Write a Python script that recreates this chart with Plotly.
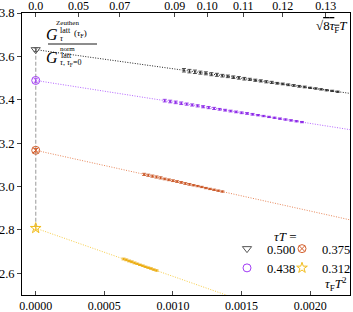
import plotly.graph_objects as go

# ---------------- data ----------------
tau_T_labels = ["0.500", "0.438", "0.375", "0.312"]

# extrapolated (tau_F -> 0) values at x = 0
extrap_y = [3.631, 3.489, 3.167, 2.808]
extrap_err = [0.008, 0.008, 0.008, 0.008]

# flow-time data  (x = tau_F T^2)
x_500 = [0.00108, 0.00112, 0.00116, 0.00120, 0.00124, 0.00128, 0.00132, 0.00136,
         0.00140, 0.00144, 0.00148, 0.00152, 0.00156, 0.00160, 0.00164, 0.00168,
         0.00172, 0.00176, 0.00180, 0.00184, 0.00188, 0.00192, 0.00196, 0.00200,
         0.00204, 0.00208, 0.00212, 0.00216, 0.00220]
y_500 = [3.536, 3.532, 3.529, 3.525, 3.522, 3.518, 3.515, 3.511, 3.508, 3.504,
         3.501, 3.497, 3.494, 3.490, 3.487, 3.483, 3.480, 3.476, 3.473, 3.469,
         3.466, 3.462, 3.459, 3.455, 3.452, 3.448, 3.444, 3.441, 3.437]
e_500 = [0.008, 0.008, 0.008, 0.007, 0.007, 0.007, 0.007, 0.006, 0.006, 0.006,
         0.006, 0.006, 0.005, 0.005, 0.005, 0.005, 0.005, 0.004, 0.004, 0.004,
         0.004, 0.004, 0.004, 0.003, 0.003, 0.003, 0.003, 0.003, 0.003]

x_438 = [0.00094, 0.00098, 0.00102, 0.00106, 0.00110, 0.00114, 0.00118, 0.00122,
         0.00126, 0.00130, 0.00134, 0.00138, 0.00142, 0.00146, 0.00150, 0.00154,
         0.00158, 0.00162, 0.00166, 0.00170, 0.00174, 0.00178, 0.00182, 0.00186,
         0.00190, 0.00194]
y_438 = [3.396, 3.392, 3.388, 3.384, 3.380, 3.376, 3.372, 3.368, 3.364, 3.360,
         3.356, 3.352, 3.348, 3.344, 3.340, 3.337, 3.333, 3.329, 3.325, 3.321,
         3.317, 3.313, 3.309, 3.305, 3.301, 3.297]
e_438 = [0.006, 0.006, 0.006, 0.006, 0.005, 0.005, 0.005, 0.005, 0.005, 0.005,
         0.004, 0.004, 0.004, 0.004, 0.004, 0.004, 0.004, 0.003, 0.003, 0.003,
         0.003, 0.003, 0.003, 0.003, 0.003, 0.003]

x_375 = [0.00079, 0.00082, 0.00085, 0.00088, 0.00091, 0.00094, 0.00097, 0.00100,
         0.00103, 0.00106, 0.00109, 0.00112, 0.00115, 0.00118, 0.00121, 0.00124,
         0.00127, 0.00130, 0.00133, 0.00136]
y_375 = [3.056, 3.052, 3.048, 3.044, 3.040, 3.035, 3.031, 3.027, 3.023, 3.019,
         3.014, 3.010, 3.006, 3.002, 2.998, 2.993, 2.989, 2.985, 2.981, 2.977]
e_375 = [0.005, 0.005, 0.005, 0.005, 0.005, 0.004, 0.004, 0.004, 0.004, 0.004,
         0.004, 0.004, 0.003, 0.003, 0.003, 0.003, 0.003, 0.003, 0.003, 0.003]

x_312 = [0.00064, 0.00066, 0.00068, 0.00070, 0.00072, 0.00074, 0.00076, 0.00078,
         0.00080, 0.00082, 0.00084, 0.00086, 0.00088]
y_312 = [2.666, 2.662, 2.657, 2.653, 2.648, 2.644, 2.639, 2.635, 2.630, 2.626,
         2.622, 2.617, 2.613]
e_312 = [0.004, 0.004, 0.004, 0.004, 0.004, 0.003, 0.003, 0.003, 0.003, 0.003,
         0.003, 0.003, 0.003]

# linear fits (end points)
fit_x = [0.0, 0.0023]
fit_500 = [3.631, 3.4286]
fit_438 = [3.489, 3.2613]
fit_375 = [3.167, 2.845]
fit_312 = [2.808, 2.2974]

# top axis tick labels: sqrt(8 tau_F) T
top_ticks = [0.0, 0.05, 0.07, 0.09, 0.10, 0.11, 0.12, 0.13]
top_labels = ["0.0", "0.05", "0.07", "0.09", "0.10", "0.11", "0.12", "0.13"]
bottom_ticks = [0.0, 0.0005, 0.0010, 0.0015, 0.0020]

# ---------------- style ----------------
W, H = 353, 312
ML, MR, MT, MB = 22, 3, 13, 17
PW, PH = W - ML - MR, H - MT - MB
FONT = "Liberation Serif"

data_x = [x_500, x_438, x_375, x_312]
data_y = [y_500, y_438, y_375, y_312]
data_e = [e_500, e_438, e_375, e_312]
fits = [fit_500, fit_438, fit_375, fit_312]

colors_pt = ["#555555", "#a23df5", "#d4612f", "#f2bd1d"]
colors_data = ["rgba(40,40,40,0.8)", "rgba(135,30,230,0.8)", "rgba(200,80,30,0.8)", "rgba(235,170,10,0.85)"]
colors_fit = ["#222222", "#b565ff", "#e8875a", "#f7cd45"]
symbols = ["triangle-down-open", "circle-open", "circle-x-open", "star-open"]
legends = ["legend", "legend", "legend2", "legend2"]

fig = go.Figure()

# vertical dashed guide at x=0
fig.add_trace(go.Scatter(
    x=[0.0, 0.0], y=[extrap_y[0], extrap_y[-1]], mode="lines",
    line=dict(color="#b0b0b0", width=1.3, dash="4px,2px"),
    showlegend=False, hoverinfo="skip"))

for i in range(4):
    fig.add_trace(go.Scatter(
        x=fit_x, y=fits[i], mode="lines",
        line=dict(color=colors_fit[i], width=1, dash="1px,1.5px"),
        showlegend=False, hoverinfo="skip"))
    fig.add_trace(go.Scatter(
        x=data_x[i], y=data_y[i], mode="markers",
        marker=dict(size=2, color=colors_data[i]),
        error_y=dict(type="data", array=data_e[i], color=colors_data[i], thickness=1, width=2),
        showlegend=False, hoverinfo="skip"))

for i in range(4):
    fig.add_trace(go.Scatter(
        x=[0.0], y=[extrap_y[i]], mode="markers", name=tau_T_labels[i],
        marker=dict(symbol=symbols[i], size=8, color=colors_pt[i], line=dict(width=1, color=colors_pt[i])),
        error_y=dict(type="data", array=[extrap_err[i]], color=colors_pt[i], thickness=1, width=2),
        legend=legends[i]))

fig.add_trace(go.Scatter(x=[0.0], y=[extrap_y[0]], xaxis="x2", mode="markers",
                         marker=dict(size=1, opacity=0), showlegend=False, hoverinfo="skip"))

xr = [-0.0001, 0.00229]
LEG_TOP = 234
fig.update_layout(
    width=W, height=H, margin=dict(l=ML, r=MR, t=MT, b=MB, autoexpand=False),
    paper_bgcolor="white", plot_bgcolor="white",
    font=dict(family=FONT, size=12, color="black"),
    xaxis=dict(range=xr, tickvals=bottom_ticks, tickformat=".4f", ticks="inside", ticklen=4,
               showline=True, linecolor="black", linewidth=1, showgrid=False, zeroline=False,
               tickfont=dict(size=12), automargin=False, ticklabelstandoff=0),
    xaxis2=dict(range=xr, overlaying="x", side="top", tickvals=[t * t / 8 for t in top_ticks],
                ticktext=top_labels, ticks="inside", ticklen=4, showline=True, linecolor="black",
                linewidth=1, showgrid=False, zeroline=False, tickfont=dict(size=12),
                automargin=False, ticklabelstandoff=-3),
    yaxis=dict(range=[2.5, 3.8], dtick=0.2, tickformat=".1f", ticks="outside", ticklen=4,
               showline=True, mirror=True, linecolor="black", linewidth=1, showgrid=False,
               zeroline=False, tickfont=dict(size=12.5), automargin=False),
    legend=dict(x=(227 - ML) / PW, y=(H - MB - LEG_TOP) / PH, xanchor="left", yanchor="top",
                bgcolor="rgba(0,0,0,0)", font=dict(size=12.5), itemwidth=30, tracegroupgap=0),
    legend2=dict(x=(282 - ML) / PW, y=(H - MB - LEG_TOP) / PH, xanchor="left", yanchor="top",
                 bgcolor="rgba(0,0,0,0)", font=dict(size=12.5), itemwidth=30, tracegroupgap=0),
    showlegend=True,
)


def px(xp):
    return (xp - ML) / PW


def py(yp):
    return (H - MB - yp) / PH


def ann(text, x, y, size, xanchor="center", italic=False):
    if italic:
        text = "<i>" + text + "</i>"
    fig.add_annotation(text=text, x=px(x), y=py(y), xref="paper", yref="paper",
                       xanchor=xanchor, yanchor="middle", showarrow=False,
                       font=dict(size=size, family=FONT), bgcolor="rgba(0,0,0,0)", borderpad=0)


# ratio label
ann("Zeuthen", 67, 23, 7)
ann("G", 52, 34, 16, italic=True)
ann("latt", 59, 30, 8, xanchor="left")
ann("τ", 59, 38.5, 8, xanchor="left", italic=True)
ann("(<i>τ</i><sub>F</sub>)", 73, 33.5, 9, xanchor="left")
fig.add_shape(type="line", xref="paper", yref="paper", x0=px(48), x1=px(97), y0=py(44), y1=py(44),
              line=dict(color="black", width=0.9))
ann("norm", 67, 48.5, 7)
ann("G", 52, 57, 16, italic=True)
ann("latt", 60, 55.5, 8, xanchor="left")
ann("<i>τ</i>, <i>τ</i><sub>F</sub>=0", 59, 63, 8, xanchor="left")

# axis labels inside the frame
ann("<i>τ</i><sub>F</sub><i>T</i><sup>2</sup>", 348, 284, 13, xanchor="right")
ann("√<span style='text-decoration:overline'>8<i>τ</i><sub>F</sub></span><i>T</i>", 348, 26, 13, xanchor="right")

# legend title
ann("<i>τT</i> =", 285, 236, 13)

fig.write_html("out.html", config={"displayModeBar": False},
               post_script="document.body.style.margin='0';")
